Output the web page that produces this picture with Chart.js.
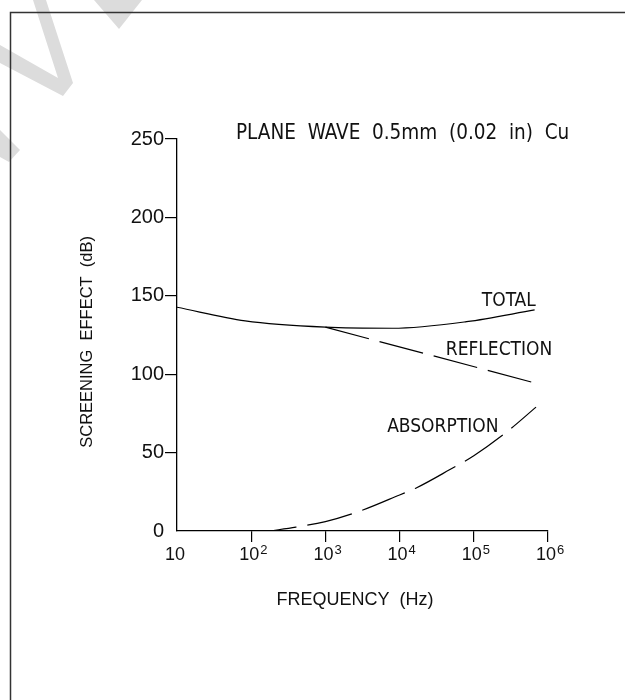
<!DOCTYPE html>
<html>
<head>
<meta charset="utf-8">
<title>Screening effect - plane wave 0.5mm Cu</title>
<script src="https://cdn.jsdelivr.net/npm/chart.js@4.4.1/dist/chart.umd.min.js"></script>
<style>
  html, body { margin: 0; padding: 0; background: #fff; }
  #wrap { width: 625px; height: 700px; }
</style>
</head>
<body>
<div id="wrap"><canvas id="chart" width="625" height="700"></canvas></div>
<script>
// frequency (Hz) and screening effect (dB)
var totalFreq = [10, 83, 1000, 8000, 80000, 660000];
var totalDb = [142.7, 134, 130, 129.3, 133.5, 141];

var reflFreq = [1000, 140000, 780000];
var reflDb = [130, 103, 93.5];

var absFreq = [178, 400, 1000, 3200, 10000, 17000, 47000, 100000, 275000, 690000];
var absDb = [0, 2.5, 6, 13.4, 23, 27.6, 39, 48, 63, 79];

var xTickValues = [10, 100, 1000, 10000, 100000, 1000000];
var xTickExp = ['', '2', '3', '4', '5', '6'];

var seriesNames = ['TOTAL', 'REFLECTION', 'ABSORPTION'];
// where each curve name sits (data units: Hz, dB at text baseline)
var labelFreq = [1.28e5, 4.2e4, 6.8e3];
var labelDb = [143.7, 112.2, 63.3];

var chartTitle = 'PLANE  WAVE  0.5mm  (0.02  in)  Cu';

var narrow = '"Liberation Sans Narrow", "DejaVu Sans Condensed", "Liberation Sans", sans-serif';
var plain = '"Liberation Sans", Arial, sans-serif';

function pairs(xs, ys) {
    var out = [];
    for (var i = 0; i < xs.length; i++) {
        out.push({x: xs[i], y: ys[i]});
    }
    return out;
}

// page frame + faint watermark behind the chart
var backdrop = {
    id: 'backdrop',
    beforeDraw: function (chart) {
        var ctx = chart.ctx;
        ctx.save();
        ctx.fillStyle = '#dcdcdc';
        var shapes = [
            [[33, 0], [46, 0], [73, 83], [63, 96], [0, 63], [0, 45], [58, 78]],
            [[94, 0], [142, 0], [119, 29]],
            [[0, 130], [20, 150], [9, 162], [0, 157]]
        ];
        shapes.forEach(function (s) {
            ctx.beginPath();
            ctx.moveTo(s[0][0], s[0][1]);
            for (var i = 1; i < s.length; i++) ctx.lineTo(s[i][0], s[i][1]);
            ctx.closePath();
            ctx.fill();
        });
        ctx.strokeStyle = '#333';
        ctx.lineWidth = 1.5;
        ctx.beginPath();
        ctx.moveTo(625, 12.5);
        ctx.lineTo(10.5, 12.5);
        ctx.lineTo(10.5, 700);
        ctx.stroke();
        ctx.restore();
    }
};

// title, curve names and the 10^n tick labels
var annotate = {
    id: 'annotate',
    afterDraw: function (chart) {
        var ctx = chart.ctx;
        var xs = chart.scales.x;
        var ys = chart.scales.y;
        ctx.save();
        ctx.fillStyle = '#111';
        ctx.textBaseline = 'alphabetic';
        ctx.textAlign = 'left';

        ctx.font = '20.5px ' + narrow;
        ctx.fillText(chartTitle, 236, 139);

        ctx.font = '19px ' + narrow;
        for (var i = 0; i < seriesNames.length; i++) {
            ctx.fillText(seriesNames[i], xs.getPixelForValue(labelFreq[i]), ys.getPixelForValue(labelDb[i]));
        }

        var base = ys.bottom + 29;
        for (var j = 0; j < xTickValues.length; j++) {
            var px = xs.getPixelForValue(xTickValues[j]);
            ctx.font = '18px ' + plain;
            var w = ctx.measureText('10').width;
            var left = px - 2 - w / 2;
            ctx.fillText('10', left, base);
            if (xTickExp[j]) {
                ctx.font = '13px ' + plain;
                ctx.fillText(xTickExp[j], left + w + 1, base - 6);
            }
        }
        ctx.restore();
    }
};

var config = {
    type: 'line',
    data: {
        datasets: [{
            label: seriesNames[0],
            data: pairs(totalFreq, totalDb),
            borderColor: '#000',
            borderWidth: 1.2,
            pointRadius: 0,
            cubicInterpolationMode: 'monotone'
        }, {
            label: seriesNames[1],
            data: pairs(reflFreq, reflDb),
            borderColor: '#000',
            borderWidth: 1.2,
            pointRadius: 0,
            borderDash: [45, 11]
        }, {
            label: seriesNames[2],
            data: pairs(absFreq, absDb),
            borderColor: '#000',
            borderWidth: 1.2,
            pointRadius: 0,
            cubicInterpolationMode: 'monotone',
            borderDash: [46, 11],
            borderDashOffset: 19
        }]
    },
    options: {
        responsive: false,
        animation: false,
        devicePixelRatio: 1,
        layout: {
            padding: {left: 10, top: 139, right: 77, bottom: 0}
        },
        plugins: {
            legend: {display: false},
            tooltip: {enabled: false}
        },
        scales: {
            x: {
                type: 'logarithmic',
                min: 10,
                max: 1000000,
                afterBuildTicks: function (scale) {
                    scale.ticks = xTickValues.map(function (v) { return {value: v}; });
                },
                afterFit: function (scale) { scale.height = 169; },
                ticks: {display: false},
                grid: {
                    drawOnChartArea: false,
                    drawTicks: true,
                    tickLength: 11,
                    lineWidth: 1.2,
                    color: function (c) { return c.tick && c.tick.value === 10 ? 'rgba(0,0,0,0)' : '#000'; }
                },
                border: {display: true, color: '#000', width: 1.3},
                title: {
                    display: true,
                    // trailing spaces nudge the centred text a little left, as in the original
                    text: 'FREQUENCY  (Hz)   ',
                    color: '#111',
                    font: {family: plain, size: 18},
                    padding: {top: 0, bottom: 89}
                }
            },
            y: {
                min: 0,
                max: 250,
                afterFit: function (scale) { scale.width = 167; },
                ticks: {
                    stepSize: 50,
                    color: '#111',
                    padding: 1,
                    font: {family: plain, size: 20}
                },
                grid: {
                    drawOnChartArea: false,
                    drawTicks: true,
                    tickLength: 12,
                    lineWidth: 1.2,
                    color: function (c) { return c.tick && c.tick.value === 0 ? 'rgba(0,0,0,0)' : '#000'; }
                },
                border: {display: true, color: '#000', width: 1.3},
                title: {
                    display: true,
                    text: 'SCREENING  EFFECT  (dB)   ',
                    color: '#111',
                    font: {family: plain, size: 16.5},
                    padding: {top: 68, bottom: 0}
                }
            }
        }
    },
    plugins: [backdrop, annotate]
};

var chart = new Chart(document.getElementById('chart'), config);
</script>
</body>
</html>
